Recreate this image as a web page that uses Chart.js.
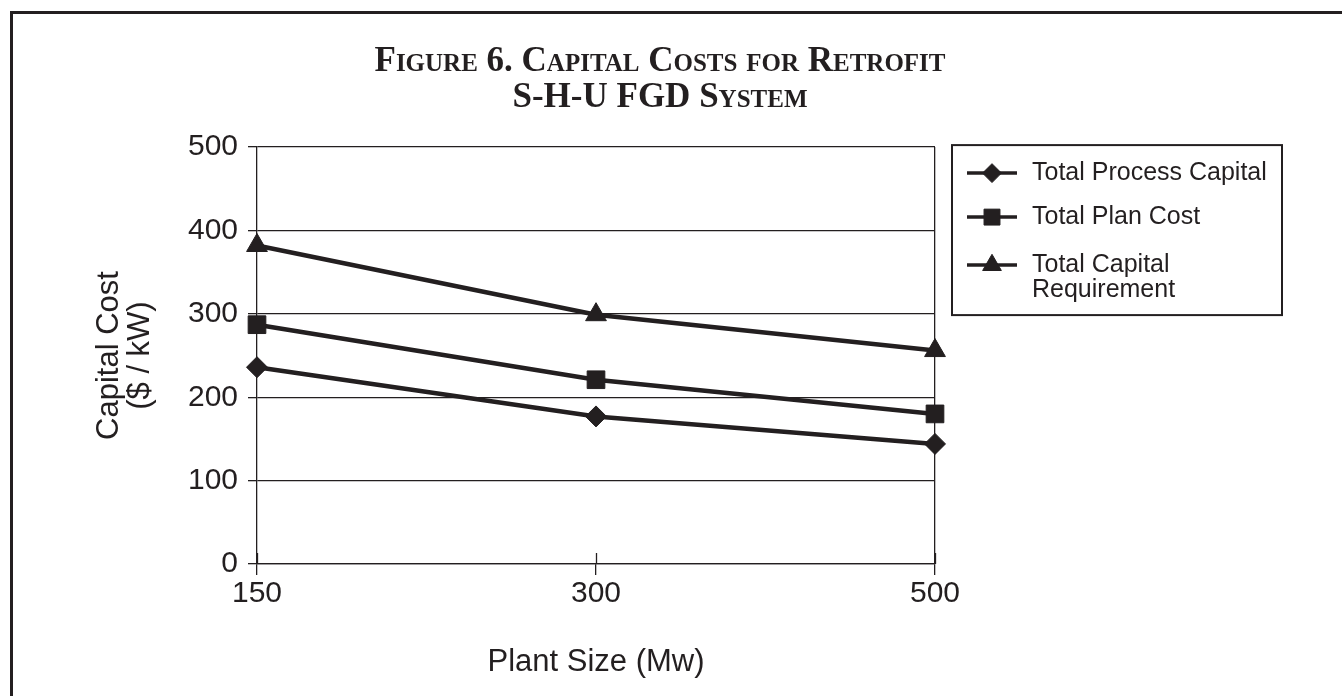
<!DOCTYPE html>
<html>
<head>
<meta charset="utf-8">
<script src="https://cdn.jsdelivr.net/npm/chart.js@4.4.1/dist/chart.umd.min.js"></script>
<style>
  html, body { margin: 0; padding: 0; background: #ffffff; overflow: hidden; }
  #frame { position: absolute; left: 10px; top: 11px; width: 1400px; height: 800px;
           border-top: 3px solid #231f20; border-left: 3px solid #231f20; }
  #wrap { position: absolute; left: 0; top: 0; width: 1342px; height: 696px; }
</style>
</head>
<body>
<div id="frame"></div>
<div id="wrap"><canvas id="c" width="1342" height="696"></canvas></div>
<script>
// ---- data ----
const categories = ['150', '300', '500'];
const processCapital = [236, 177, 144];
const planCost = [287, 221, 180];
const capitalRequirement = [382, 299, 256];
const yTickValues = [0, 100, 200, 300, 400, 500];
const seriesLabels = ['Total Process Capital', 'Total Plan Cost', ['Total Capital', 'Requirement']];
const seriesMarkers = ['rectRot', 'rect', 'triangle'];
const seriesMarkerSizes = [10.5, 12.5, 12];
const titleLines = ['Figure 6. Capital Costs for Retrofit', 'S-H-U FGD System'];
const xTitle = 'Plant Size (Mw)';
const yTitle = ['Capital Cost', '($ / kW)'];

const INK = '#231f20';
const SANS = '"Liberation Sans", Arial, Helvetica, sans-serif';
const SERIF = '"Liberation Serif", "Times New Roman", serif';

const seriesData = [processCapital, planCost, capitalRequirement];

function drawMarker(ctx, style, x, y, r) {
  ctx.beginPath();
  if (style === 'rectRot') {
    ctx.moveTo(x - r, y); ctx.lineTo(x, y - r); ctx.lineTo(x + r, y); ctx.lineTo(x, y + r);
  } else if (style === 'rect') {
    const s = r * Math.SQRT1_2;
    ctx.rect(x - s, y - s, 2 * s, 2 * s);
  } else {
    ctx.moveTo(x, y - r);
    ctx.lineTo(x + r * Math.sin(2 * Math.PI / 3), y - r * Math.cos(2 * Math.PI / 3));
    ctx.lineTo(x + r * Math.sin(4 * Math.PI / 3), y - r * Math.cos(4 * Math.PI / 3));
  }
  ctx.closePath();
  ctx.fill();
  ctx.stroke();
}

// inner half of the x tick marks (cross ticks) and the boxed legend
const extrasPlugin = {
  id: 'extras',
  afterDraw(chart) {
    const ctx = chart.ctx;
    const area = chart.chartArea;
    const xs = chart.scales.x;
    ctx.save();
    ctx.strokeStyle = INK;
    ctx.lineWidth = 1.3;
    for (let i = 0; i < xs.ticks.length; i++) {
      const px = Math.round(xs.getPixelForTick(i)) + 0.5;
      ctx.beginPath();
      ctx.moveTo(px, area.bottom - 11);
      ctx.lineTo(px, area.bottom);
      ctx.stroke();
    }
    // legend
    const bx = area.right + 17, by = area.top - 2, bw = 330, bh = 170;
    ctx.lineWidth = 2;
    ctx.strokeRect(bx, by, bw, bh);
    const rowY = [28, 72, 120];
    const lineH = 25;
    ctx.font = '25px ' + SANS;
    ctx.textBaseline = 'middle';
    ctx.textAlign = 'left';
    chart.data.datasets.forEach((ds, i) => {
      const cy = by + rowY[i];
      ctx.strokeStyle = INK;
      ctx.fillStyle = INK;
      ctx.lineWidth = 3.5;
      ctx.beginPath();
      ctx.moveTo(bx + 15, cy);
      ctx.lineTo(bx + 65, cy);
      ctx.stroke();
      ctx.lineWidth = 1;
      drawMarker(ctx, ds.pointStyle, bx + 40, cy, ds.pointRadius * 0.9);
      const lines = Array.isArray(ds.label) ? ds.label : [ds.label];
      lines.forEach((t, k) => ctx.fillText(t, bx + 80, cy + k * lineH));
    });
    ctx.restore();
  }
};

const datasets = seriesData.map((d, i) => ({
  label: seriesLabels[i],
  data: d,
  yAxisID: 'y',
  borderColor: INK,
  backgroundColor: INK,
  borderWidth: 4.5,
  tension: 0,
  pointStyle: seriesMarkers[i],
  pointRadius: seriesMarkerSizes[i],
  pointHoverRadius: seriesMarkerSizes[i],
  pointBackgroundColor: INK,
  pointBorderColor: INK,
  pointBorderWidth: 1
}));

new Chart(document.getElementById('c'), {
  type: 'line',
  data: { labels: categories, datasets },
  plugins: [extrasPlugin],
  options: {
    responsive: false,
    animation: false,
    events: [],
    layout: { padding: { left: 0, top: 0, bottom: 0, right: 22 } },
    plugins: {
      legend: { display: false },
      tooltip: { enabled: false },
      title: {
        display: true,
        text: titleLines,
        color: INK,
        font: { family: SERIF, size: 35, weight: 'small-caps bold', lineHeight: 1.03 },
        padding: { top: 44, bottom: 31 }
      }
    },
    scales: {
      x: {
        type: 'category',
        offset: false,
        border: { display: true, color: INK, width: 1.3 },
        grid: {
          drawOnChartArea: true,
          color: (c) => (c.index === categories.length - 1 ? INK : 'rgba(0,0,0,0)'),
          tickColor: INK,
          lineWidth: 1.3,
          tickLength: 11
        },
        ticks: { color: INK, font: { family: SANS, size: 30 }, padding: 1, maxRotation: 0 },
        title: {
          display: true, text: xTitle, color: INK,
          font: { family: SANS, size: 31, lineHeight: 1.2 },
          padding: { top: 0, bottom: 15 }
        },
        afterFit: (s) => { s.height = 132; }
      },
      y: {
        position: 'left',
        min: 0, max: 500,
        afterBuildTicks: (s) => { s.ticks = yTickValues.map(v => ({ value: v })); },
        border: { display: true, color: INK, width: 1.3 },
        grid: { color: INK, lineWidth: 1.3, tickLength: 9 },
        ticks: { color: INK, font: { family: SANS, size: 30 }, padding: 10 },
        title: {
          display: true, text: yTitle, color: INK,
          font: { family: SANS, size: 31, lineHeight: 1.0 },
          padding: { top: 94, bottom: 0 }
        },
        afterFit: (s) => { s.width = 257; }
      },
      legendSpace: {
        position: 'right',
        display: true,
        grid: { display: false },
        border: { display: false },
        ticks: { display: false },
        afterFit: (s) => { s.width = 385; }
      }
    }
  }
});
</script>
</body>
</html>
